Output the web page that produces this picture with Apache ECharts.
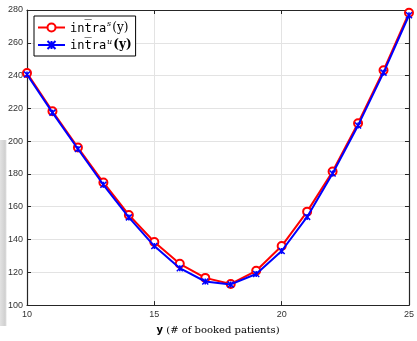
<!DOCTYPE html>
<html><head><meta charset="utf-8">
<script src="https://cdn.jsdelivr.net/npm/echarts@6/dist/echarts.min.js"></script>
<style>html,body{margin:0;padding:0;background:#fff}#c{width:417px;height:341px}</style>
</head><body><div id="c"></div>
<script>
const categories = [10,11,12,13,14,15,16,17,18,19,20,21,22,23,24,25];
const intraS = [241.5,218.2,196.1,174.8,155,138.5,125.2,116.6,112.9,120.9,136,157,181.5,210.9,243.2,278.3];
const intraU = [240.7,217.4,195.2,173.4,153.5,136,122.5,114.4,112.6,119,133,153.8,180.3,209.6,241.8,276.8];
const xTicks = [10,15,20,25];
const yTicks = [100,120,140,160,180,200,220,240,260,280];

const chart = echarts.init(document.getElementById('c'));
const sData = categories.map((x,i)=>[x,intraS[i]]);
const uData = categories.map((x,i)=>[x,intraU[i]]);
const tickFont = {fontFamily:'"Liberation Sans"', fontSize:9, color:'#333'};
const rich = {
  m:{fontFamily:'"DejaVu Sans Mono"', fontSize:12, color:'#000', padding:[2,0,0,0]},
  sup:{fontFamily:'"DejaVu Serif"', fontStyle:'italic', fontSize:8, color:'#000', verticalAlign:'top', padding:[0,1,7,1]},
  s:{fontFamily:'"DejaVu Serif"', fontSize:12, color:'#000'},
  b:{fontFamily:'"DejaVu Serif"', fontSize:12, fontWeight:'bold', color:'#000'}
};
chart.setOption({
  animation:false,
  graphic:[{type:'rect',shape:{x:0,y:140,width:7,height:186},
    style:{fill:new echarts.graphic.LinearGradient(0,0,1,0,[{offset:0,color:'#e2e2e2'},{offset:0.75,color:'#cfcfcf'},{offset:1,color:'#ffffff'}])},z:-1}],
  grid:{left:27,right:6,top:10,bottom:27},
  legend:{
    left:34, top:16, orient:'vertical', backgroundColor:'#fff', borderColor:'#000', borderWidth:1,
    padding:[4,4,4,3], itemGap:3, itemWidth:27, itemHeight:10,
    data:['S','U'],
    formatter:function(n){
      return n==='S' ? '{m|int\u0305ra}{sup|s}{s|(y)}' : '{m|int\u0305ra}{sup|u}{b|(y)}';
    },
    textStyle:{rich:rich}
  },
  xAxis:[{
    type:'value', min:10, max:25, interval:5,
    axisLine:{lineStyle:{color:'#262626',width:1.2}},
    axisTick:{inside:true,length:4,lineStyle:{color:'#262626'}},
    axisLabel:Object.assign({margin:5},tickFont),
    splitLine:{show:true,lineStyle:{color:'#e3e3e3',width:1}},
    name:'{b|y} {s|(# of booked patients)}', nameLocation:'middle', nameGap:17,
    nameTextStyle:{rich:{
      b:{fontFamily:'"DejaVu Sans"',fontWeight:'bold',fontSize:10,color:'#000'},
      s:{fontFamily:'"DejaVu Serif"',fontSize:10,color:'#000'}}}
  },{
    type:'value', min:10, max:25, interval:5, position:'top',
    axisLine:{show:true,lineStyle:{color:'#262626',width:1.2}},
    axisTick:{show:true,inside:true,length:4,lineStyle:{color:'#262626'}},
    axisLabel:{show:false}, splitLine:{show:false}
  }],
  yAxis:[{
    type:'value', min:100, max:280, interval:20,
    axisLine:{show:true,lineStyle:{color:'#262626',width:1.2}},
    axisTick:{show:true,inside:true,length:4,lineStyle:{color:'#262626'}},
    axisLabel:Object.assign({margin:4},tickFont),
    splitLine:{show:true,lineStyle:{color:'#e3e3e3',width:1}}
  },{
    type:'value', min:100, max:280, interval:20, position:'right',
    axisLine:{show:true,lineStyle:{color:'#262626',width:1.2}},
    axisTick:{show:true,inside:true,length:4,lineStyle:{color:'#262626'}},
    axisLabel:{show:false}, splitLine:{show:false}
  }],
  series:[{
    name:'S', type:'line', data:sData, color:'#ff0000',
    symbol:'emptyCircle', symbolSize:8, showAllSymbol:true,
    lineStyle:{width:2,color:'#ff0000'},
    itemStyle:{color:'#ff0000',borderColor:'#ff0000',borderWidth:1.5}, z:2
  },{
    name:'U', type:'line', data:uData, color:'#0000ff',
    symbol:'path://M0,0L10,10M10,0L0,10M5,0L5,10', symbolSize:6, showAllSymbol:true,
    lineStyle:{width:2,color:'#0000ff'},
    itemStyle:{color:'#0000ff',borderColor:'#0000ff',borderWidth:1.5}, z:3
  }]
});
</script></body></html>
